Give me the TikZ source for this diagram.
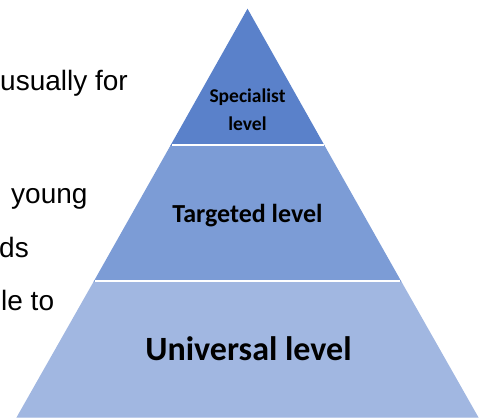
\documentclass[tikz,border=0pt]{standalone}
\usepackage{fontspec}
\setmainfont{Liberation Sans}
\newfontfamily\levelfont{Carlito}
\usepackage{xcolor}
\usepackage{tikz}

\definecolor{specialblue}{RGB}{90,129,202}
\definecolor{targetblue}{RGB}{124,156,214}
\definecolor{universalblue}{RGB}{161,183,225}

\tikzset{
	band/.style={draw=white, line width=1.3pt, line join=miter},
	bandlabel/.style={inner sep=0pt, anchor=base, font=\levelfont\bfseries},
	sidetext/.style={inner sep=0pt, anchor=base west, font=\fontsize{28}{32}\selectfont}
}

\begin{document}
\begin{tikzpicture}[x=1pt, y=-1pt]
			\useasboundingbox (0,0) rectangle (481,418);
			\clip (0,0) rectangle (481,418);
			% pyramid bands
			\fill[band, universalblue] (94.7,281) -- (400.3,281) -- (477.5,417) -- (17.5,417) -- cycle;
			\fill[band, targetblue] (171.5,145) -- (323.5,145) -- (400.3,281) -- (94.7,281) -- cycle;
			\fill[band, specialblue] (247.5,10) -- (323.5,145) -- (171.5,145) -- cycle;
			\draw[white, line width=1.3pt] (171.5,145) -- (323.5,145);
			\draw[white, line width=1.3pt] (94.7,281) -- (400.3,281);
			% labels
			\node[bandlabel, font=\levelfont\bfseries\fontsize{19.5}{22}\selectfont] (spec) at (247.5,102) {Specialist};
			\node[bandlabel, font=\levelfont\bfseries\fontsize{19.5}{22}\selectfont] (specb) at (247.5,130) {level};
			\node[bandlabel, font=\levelfont\bfseries\fontsize{26}{30}\selectfont] (targ) at (247.5,222) {Targeted level};
			\node[bandlabel, font=\levelfont\bfseries\fontsize{34}{38}\selectfont] (univ) at (248.5,360) {Universal level};
			% cut-off text on the left
			\foreach \i/\x/\y/\txt in {1/0/90/usually for, 2/11/203/young, 3/-1/257/ds, 4/1/310/le to} {
				\node[sidetext] (side\i) at (\x,\y) {\txt};
			}
		\end{tikzpicture}
\end{document}
